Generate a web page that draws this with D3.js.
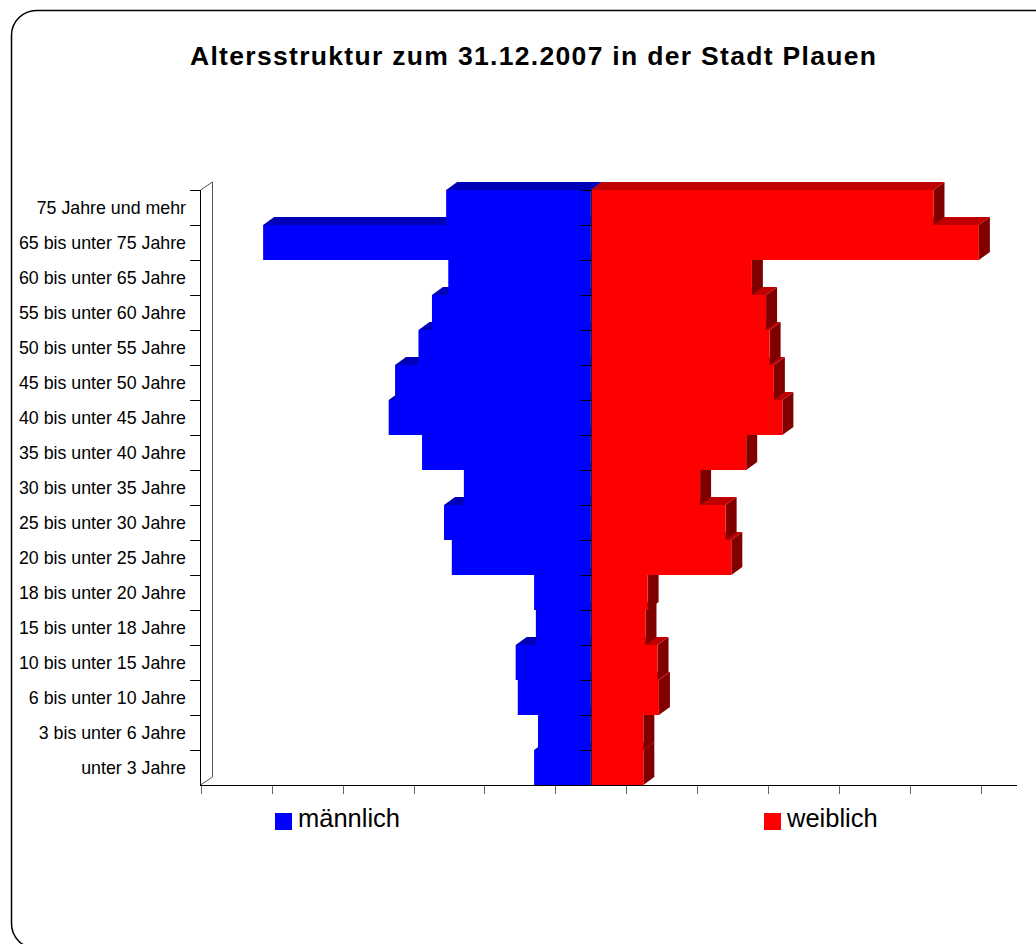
<!DOCTYPE html>
<html>
<head>
<meta charset="utf-8">
<script src="https://cdn.jsdelivr.net/npm/d3@7"></script>
<style>
  body { margin: 0; background: #fff; }
  svg { display: block; font-family: Arial, "Liberation Sans", sans-serif; }
</style>
</head>
<body>
<div id="chart"></div>
<script>
/* global d3 */

// age groups, top to bottom as in the chart
var categories = [
  '75 Jahre und mehr', '65 bis unter 75 Jahre', '60 bis unter 65 Jahre',
  '55 bis unter 60 Jahre', '50 bis unter 55 Jahre', '45 bis unter 50 Jahre',
  '40 bis unter 45 Jahre', '35 bis unter 40 Jahre', '30 bis unter 35 Jahre',
  '25 bis unter 30 Jahre', '20 bis unter 25 Jahre', '18 bis unter 20 Jahre',
  '15 bis unter 18 Jahre', '10 bis unter 15 Jahre', '6 bis unter 10 Jahre',
  '3 bis unter 6 Jahre', 'unter 3 Jahre'
];

// persons
var maennlich = [2040, 4620, 2010, 2240, 2430, 2760, 2850, 2380, 1790,
  2070, 1960, 800, 775, 1060, 1030, 745, 800];
var weiblich = [4830, 5470, 2270, 2470, 2520, 2580, 2700, 2190, 1540,
  1900, 1980, 800, 770, 940, 960, 740, 740];

var xTicks = [-5500, -4500, -3500, -2500, -1500, -500, 500, 1500, 2500, 3500, 4500, 5500];

var WIDTH = 1036;
var HEIGHT = 944;
var DX = 11; // 3d depth offset
var DY = 8;

var svg = d3.select('#chart')
  .append('svg')
  .attr('width', WIDTH)
  .attr('height', HEIGHT);

// outer frame (cut off at right and bottom)
svg.append('rect')
  .attr('x', 11.5)
  .attr('y', 10.5)
  .attr('width', 1100)
  .attr('height', 938)
  .attr('rx', 25)
  .attr('fill', 'none')
  .attr('stroke', '#000')
  .attr('stroke-width', 1.5);

svg.append('text')
  .attr('x', 190)
  .attr('y', 65)
  .attr('font-size', '26.5px')
  .attr('font-weight', 'bold')
  .attr('textLength', 686)
  .attr('lengthAdjust', 'spacing')
  .text('Altersstruktur zum 31.12.2007 in der Stadt Plauen');

var x = d3.scaleLinear().domain([-5500, 5500]).range([200.7, 981]);
var y = d3.scaleBand().domain(categories).range([190, 785]).padding(0);
var x0 = x(0);

// left wall
var wall = svg.append('g');
wall.append('path')
  .attr('d', 'M200.5,' + y.range()[0] + 'L' + (200.5 + 12) + ',' + (y.range()[0] - 8) +
    'V' + (y.range()[1] - 8) + 'L200.5,' + y.range()[1])
  .attr('fill', 'none')
  .attr('stroke', '#555')
  .attr('stroke-width', 1);
wall.append('line')
  .attr('x1', 200.5).attr('x2', 200.5)
  .attr('y1', y.range()[0]).attr('y2', y.range()[1])
  .attr('stroke', '#000');

// category ticks on the wall
wall.selectAll('line.ctick')
  .data(categories)
  .enter().append('line')
  .attr('class', 'ctick')
  .attr('x1', 190).attr('x2', 200.5)
  .attr('y1', function(d) { return Math.round(y(d)) + 0.5; })
  .attr('y2', function(d) { return Math.round(y(d)) + 0.5; })
  .attr('stroke', '#000');

// category labels
svg.append('g').selectAll('text')
  .data(categories)
  .enter().append('text')
  .attr('x', 186)
  .attr('y', function(d) { return y(d) + y.bandwidth() / 2; })
  .attr('dy', '0.36em')
  .attr('text-anchor', 'end')
  .attr('font-size', '17.8px')
  .attr('fill', '#000')
  .text(function(d) { return d; });

function pts(a) {
  return a.map(function(p) { return p[0] + ',' + p[1]; }).join(' ');
}

function box(g, xa, xb, yTop, yBot, front, top, side) {
  g.append('polygon')
    .attr('points', pts([[xb, yTop], [xb + DX, yTop - DY], [xb + DX, yBot - DY], [xb, yBot]]))
    .attr('fill', side);
  g.append('polygon')
    .attr('points', pts([[xa, yTop], [xb, yTop], [xb + DX, yTop - DY], [xa + DX, yTop - DY]]))
    .attr('fill', top);
  g.append('rect')
    .attr('x', xa).attr('y', yTop)
    .attr('width', xb - xa).attr('height', yBot - yTop)
    .attr('fill', front);
}

// bars, drawn from the bottom row upwards
var bars = svg.append('g');
for (var i = categories.length - 1; i >= 0; i--) {
  var c = categories[i];
  var t = y(c);
  var b = t + y.bandwidth();
  box(bars, x(-maennlich[i]), x0, t, b, '#0000ff', '#0000b8', '#000080');
  box(bars, x0, x(weiblich[i]), t, b, '#ff0000', '#c00000', '#800000');
}

// category axis at zero
svg.append('line')
  .attr('x1', Math.round(x0) + 0.5).attr('x2', Math.round(x0) + 0.5)
  .attr('y1', y.range()[0]).attr('y2', y.range()[1])
  .attr('stroke', '#222');
svg.append('g').selectAll('line')
  .data(categories)
  .enter().append('line')
  .attr('x1', Math.round(x0) - 10).attr('x2', Math.round(x0) + 0.5)
  .attr('y1', function(d) { return Math.round(y(d)) + 0.5; })
  .attr('y2', function(d) { return Math.round(y(d)) + 0.5; })
  .attr('stroke', '#000');

// value axis (no labels)
var xAxis = svg.append('g');
xAxis.append('line')
  .attr('x1', 200).attr('x2', 1017)
  .attr('y1', 785.5).attr('y2', 785.5)
  .attr('stroke', '#000');
xAxis.selectAll('line.vtick')
  .data(xTicks)
  .enter().append('line')
  .attr('class', 'vtick')
  .attr('x1', function(d) { return Math.round(x(d)) + 0.5; })
  .attr('x2', function(d) { return Math.round(x(d)) + 0.5; })
  .attr('y1', 786).attr('y2', 794)
  .attr('stroke', '#666');

// legend
var legend = [
  { name: 'männlich', color: '#0000ff', x: 275 },
  { name: 'weiblich', color: '#ff0000', x: 764 }
];
var lg = svg.append('g').selectAll('g')
  .data(legend)
  .enter().append('g');
lg.append('rect')
  .attr('x', function(d) { return d.x; })
  .attr('y', 813)
  .attr('width', 17)
  .attr('height', 17)
  .attr('fill', function(d) { return d.color; });
lg.append('text')
  .attr('x', function(d) { return d.x + 23; })
  .attr('y', 827)
  .attr('font-size', '25.5px')
  .attr('fill', '#000')
  .text(function(d) { return d.name; });
</script>
</body>
</html>
